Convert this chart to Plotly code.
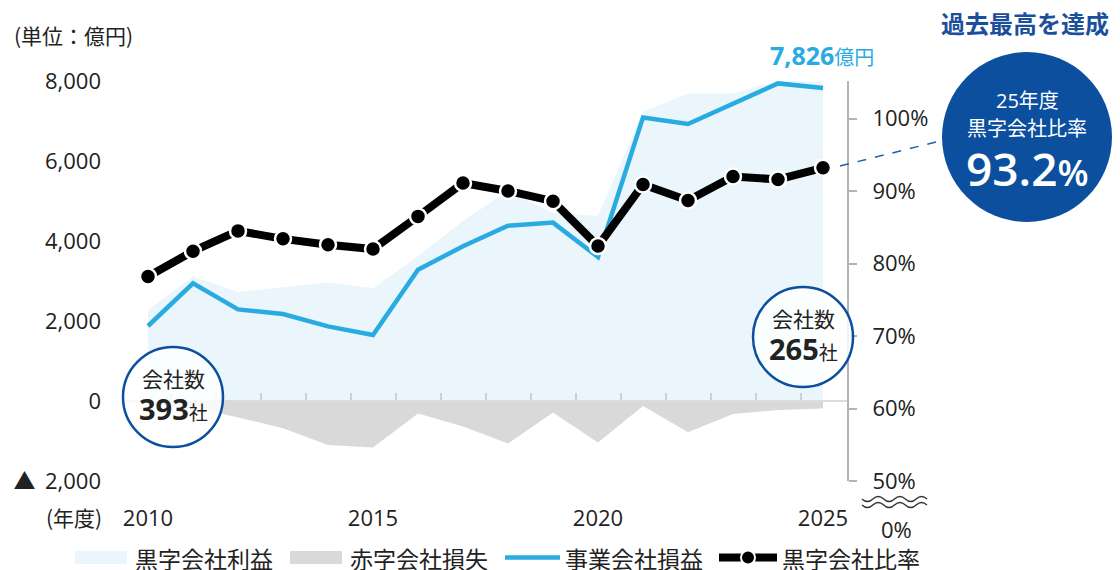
import plotly.graph_objects as go

# ---------------- data ----------------
years = list(range(2010, 2026))
profit_black = [2275, 3110, 2730, 2840, 2960, 2820, 3620, 4500, 5250, 4700, 4630, 7230, 7690, 7690, 8000, 7980]
loss_red = [-100, -150, -410, -680, -1100, -1160, -310, -640, -1060, -290, -1040, -125, -780, -325, -225, -185]
operating = [1875, 2940, 2290, 2175, 1865, 1650, 3280, 3870, 4380, 4460, 3600, 7090, 6925, 7420, 7940, 7826]
ratio = [78.2, 81.7, 84.5, 83.4, 82.6, 82.0, 86.5, 91.1, 90.0, 88.6, 82.4, 90.9, 88.7, 92.0, 91.6, 93.2]

left_tickvals = [-2000, 0, 2000, 4000, 6000, 8000]
left_ticktext = ["▲\u00a0\u20092,000", "0", "2,000", "4,000", "6,000", "8,000"]
right_tickvals = [50, 60, 70, 80, 90, 100]
right_ticktext = ["50%", "60%", "70%", "80%", "90%", "100%"]
x_tickvals = [2010, 2015, 2020, 2025]
legend_names = ["黒字会社利益", "赤字会社損失", "事業会社損益", "黒字会社比率"]

# ---------------- geometry helpers (target-image pixel coords) ----------------
OFF = 8  # page body margin
W, H = 1120, 570
L, R, T, B = 124, 847, 81, 481


def px(x):
    return (x - L) / (R - L)


def py(y):
    return (B - y) / (B - T)


CYAN = "#29abe2"
NAVY = "#0b4f9e"
LIGHT = "#eaf6fc"
GREY = "#d9d9d9"
AXISGREY = "#b4b4b4"
TXT = "#222222"
SANS = "Open Sans, Noto Sans CJK JP, sans-serif"
CJK = "Noto Sans CJK JP, sans-serif"

fig = go.Figure()
fig.add_trace(go.Scatter(x=years, y=profit_black, mode="lines", fill="tozeroy",
                         fillcolor=LIGHT, line=dict(width=0, color=LIGHT), hoverinfo="skip"))
fig.add_trace(go.Scatter(x=years, y=loss_red, mode="lines", fill="tozeroy",
                         fillcolor=GREY, line=dict(width=0, color=GREY), hoverinfo="skip"))
fig.add_trace(go.Scatter(x=years, y=operating, mode="lines",
                         line=dict(color=CYAN, width=4.5), hoverinfo="skip"))
fig.add_trace(go.Scatter(x=years, y=ratio, yaxis="y2", mode="lines+markers",
                         line=dict(color="black", width=8),
                         marker=dict(size=16, color="black", line=dict(color="white", width=2.5)),
                         hoverinfo="skip"))
# invisible trace to make sure the zero-line axis is drawn
fig.add_trace(go.Scatter(x=[years[0]], y=[0], xaxis="x2", mode="markers",
                         marker=dict(opacity=0), hoverinfo="skip"))

xr = [2010 - (148 - L) / 45.0, 2025 + (R - 823) / 45.0]

fig.update_layout(
    width=W - OFF, height=H - OFF,
    margin=dict(l=L - OFF, r=W - R, t=T - OFF, b=H - B, pad=0, autoexpand=False),
    paper_bgcolor="white", plot_bgcolor="white",
    showlegend=False,
    font=dict(family=SANS, color=TXT, size=22),
    xaxis=dict(range=xr, tickvals=x_tickvals, showgrid=False, zeroline=False,
               showline=False, ticks="", tickfont=dict(size=22, color=TXT),
               ticklabelstandoff=22, automargin=False),
    xaxis2=dict(range=xr, overlaying="x", anchor="free", position=py(401),
                tickvals=[y + 0.5 for y in years[:-1]], ticks="inside", ticklen=7,
                tickwidth=1.5, tickcolor="#d0d0d0", showline=True, linecolor="#dcdcdc",
                linewidth=2, showticklabels=False, showgrid=False, zeroline=False,
                automargin=False),
    yaxis=dict(range=[-2000, 8000], tickvals=left_tickvals, ticktext=left_ticktext,
               showgrid=False, zeroline=False, showline=False, ticks="",
               tickfont=dict(size=22, color=TXT), ticklabelstandoff=22, automargin=False),
    yaxis2=dict(range=[50, 50 + (B - T) / 7.25], overlaying="y", side="right",
                tickvals=right_tickvals, ticktext=right_ticktext, showgrid=False,
                zeroline=False, showline=True, linecolor=AXISGREY, linewidth=2,
                ticks="outside", ticklen=8, tickwidth=2, tickcolor=AXISGREY,
                tickfont=dict(size=22, color=TXT), ticklabelstandoff=11, automargin=False),
)

shapes = []
annotations = []


def ann(x, y, text, size, color=TXT, xanchor="center", family=SANS, weight=None):
    f = dict(size=size, color=color, family=family)
    if weight:
        f["weight"] = weight
    annotations.append(dict(x=px(x), y=py(y), xref="paper", yref="paper", text=text,
                            showarrow=False, xanchor=xanchor, yanchor="middle", font=f))


# small circles "会社数"
for cx, cy, num in [(173, 397, "393"), (803, 337, "265")]:
    shapes.append(dict(type="circle", xref="paper", yref="paper",
                       x0=px(cx - 50), x1=px(cx + 50), y0=py(cy + 50), y1=py(cy - 50),
                       fillcolor="rgba(255,255,255,0.82)", line=dict(color=NAVY, width=2.5),
                       layer="above"))
    ann(cx, cy - 19, "会社数", 21, family=CJK)
    ann(cx, cy + 11, "<b>" + num + "</b><span style='font-size:19px'>社</span>", 29)

# big circle
shapes.append(dict(type="circle", xref="paper", yref="paper",
                   x0=px(942), x1=px(1112), y0=py(222), y1=py(52),
                   fillcolor=NAVY, line=dict(width=0), layer="above"))
shapes.append(dict(type="line", xref="paper", yref="paper",
                   x0=px(840), y0=py(166), x1=px(940), y1=py(141),
                   line=dict(color="#1f5fae", width=1.5, dash="dash"), layer="above"))
ann(1027, 100, "25年度", 20, color="white")
ann(1027, 127, "黒字会社比率", 20, color="white", family=CJK)
ann(1027, 168, "93.2<span style='font-size:36px'>%</span>", 46, color="white", weight=600)

ann(1111, 23, "<b>過去最高を達成</b>", 24, color="#1b4f9c", xanchor="right", family=CJK)
ann(876, 55, "<b>7,826</b><span style='font-size:20px'>億円</span>", 25,
    color=CYAN, xanchor="right")
ann(12, 35, "(単位：億円)", 21, xanchor="left", family=CJK)
ann(104, 517, "(年度)", 21, xanchor="right", family=CJK)
ann(896, 529, "0%", 22)


# axis-break wave
def wave(y0, x0=862, x1=927, n=6, amp=2.6):
    step = (x1 - x0) / n
    d = "M %.5f,%.5f" % (px(x0), py(y0))
    for i in range(n):
        xa = x0 + step * (i + 0.5)
        xb = x0 + step * (i + 1)
        ya = y0 + (2 * amp if i % 2 == 0 else -2 * amp)
        d += " Q %.5f,%.5f %.5f,%.5f" % (px(xa), py(ya), px(xb), py(y0))
    return d


for yy in (499, 505):
    shapes.append(dict(type="path", xref="paper", yref="paper", path=wave(yy),
                       line=dict(color="#333333", width=1.4)))

# legend
ly = 557.5
shapes.append(dict(type="rect", xref="paper", yref="paper", x0=px(75), x1=px(127),
                   y0=py(564), y1=py(551), fillcolor=LIGHT, line=dict(width=0)))
shapes.append(dict(type="rect", xref="paper", yref="paper", x0=px(290), x1=px(342),
                   y0=py(564), y1=py(551), fillcolor=GREY, line=dict(width=0)))
shapes.append(dict(type="line", xref="paper", yref="paper", x0=px(505), x1=px(560),
                   y0=py(ly), y1=py(ly), line=dict(color=CYAN, width=4.5)))
shapes.append(dict(type="line", xref="paper", yref="paper", x0=px(719), x1=px(777),
                   y0=py(ly), y1=py(ly), line=dict(color="black", width=8)))
shapes.append(dict(type="circle", xref="paper", yref="paper", x0=px(741), x1=px(755),
                   y0=py(ly + 7), y1=py(ly - 7), fillcolor="black",
                   line=dict(color="white", width=2)))
for xx, name in zip([133, 348, 563, 780], legend_names):
    ann(xx, ly, name, 23, xanchor="left", family=CJK)

fig.update_layout(shapes=shapes, annotations=annotations)
fig.write_html("out.html")
